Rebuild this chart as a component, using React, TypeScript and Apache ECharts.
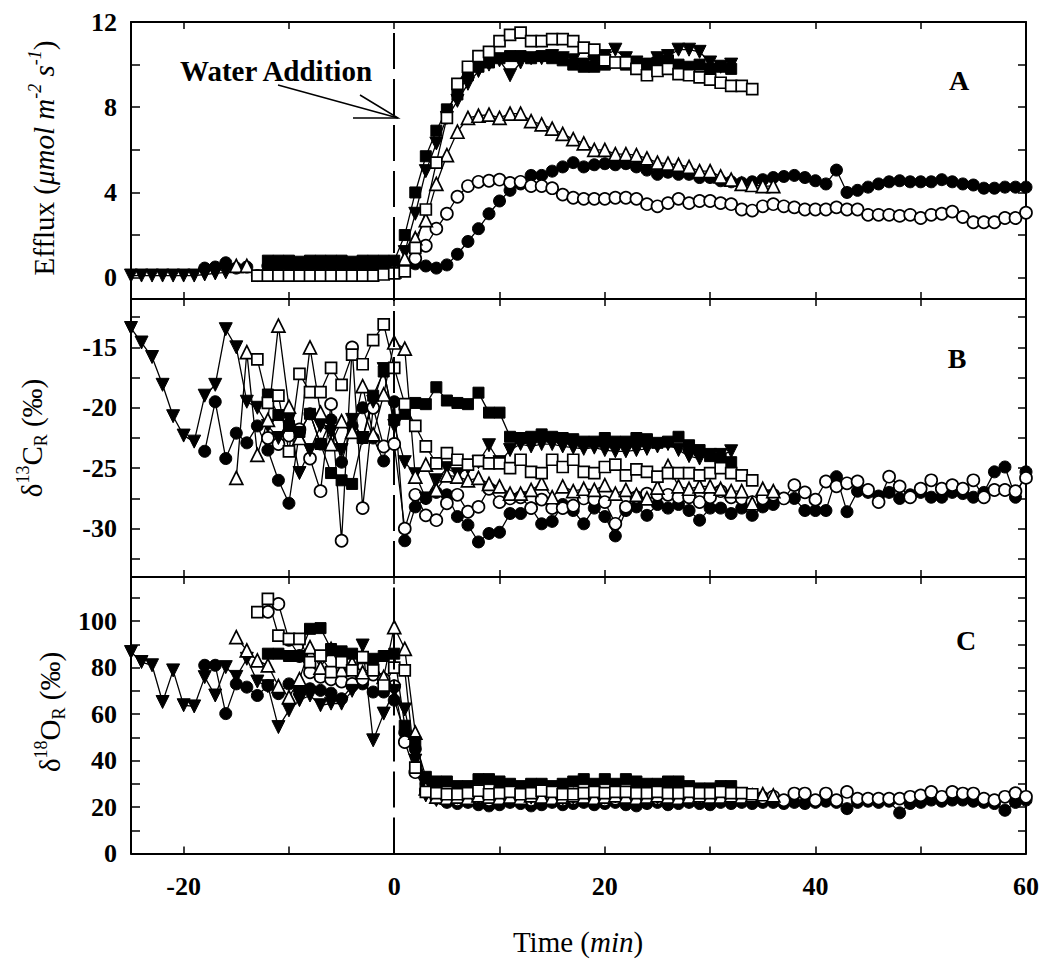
import React, { useEffect, useRef } from "react";
import * as echarts from "echarts";

const FONT = "'Liberation Serif', 'DejaVu Serif', 'Times New Roman', serif";

// ---------- time axes of each series (min) ----------
const tDown = [-25,-24,-23,-22,-21,-20,-19,-18,-17,-16,-15,-14,-13,-12,-11,-10,-9,-8,-7,-6,-5,-4,-3,-2,-1,0,
  1,2,3,4,5,6,7,8,9,10,11,12,13,14,15,16,17,18,19,20,21,22,23,24,25,26,27,28,29,30,31,32];
const tFSq = [-12,-11,-10,-9,-8,-7,-6,-5,-4,-3,-2,-1,0,
  1,2,3,4,5,6,7,8,9,10,11,12,13,14,15,16,17,18,19,20,21,22,23,24,25,26,27,28,29,30,31,32];
const tOSq = [-13,-12,-11,-10,-9,-8,-7,-6,-5,-4,-3,-2,-1,0,
  1,2,3,4,5,6,7,8,9,10,11,12,13,14,15,16,17,18,19,20,21,22,23,24,25,26,27,28,29,30,31,32,33,34];
const tOTri = [-15,-14,-13,-12,-11,-10,-9,-8,-7,-6,-5,-4,-3,-2,-1,0,
  1,2,3,4,5,6,7,8,9,10,11,12,13,14,15,16,17,18,19,20,21,22,23,24,25,26,27,28,29,30,31,32,33,34,35,36];
const tFC = [-18,-17,-16,-15,-14,-13,-12,-11,-10,-9,-8,-7,-6,-5,-4,-3,-2,-1,0,
  1,2,3,4,5,6,7,8,9,10,11,12,13,14,15,16,17,18,19,20,21,22,23,24,25,26,27,28,29,30,
  31,32,33,34,35,36,37,38,39,40,41,42,43,44,45,46,47,48,49,50,51,52,53,54,55,56,57,58,59,60];
const tOC = [-12,-11,-10,-9,-8,-7,-6,-5,-4,-3,-2,-1,0,
  1,2,3,4,5,6,7,8,9,10,11,12,13,14,15,16,17,18,19,20,21,22,23,24,25,26,27,28,29,30,
  31,32,33,34,35,36,37,38,39,40,41,42,43,44,45,46,47,48,49,50,51,52,53,54,55,56,57,58,59,60];

// ---------- Panel A: Efflux ----------
const downA = [0.1,0.1,0.1,0.1,0.1,0.1,0.1,0.15,0.2,0.25,null,null,null,null,null,null,null,null,null,null,null,null,null,null,null,null,
  1.2,3.0,5.0,6.3,7.5,8.3,9.1,9.7,10.0,10.2,9.5,10.1,10.3,10.3,10.4,10.3,10.2,10.0,10.1,10.4,10.7,10.3,10.1,10.0,10.3,10.4,10.7,10.7,10.6,10.1,9.9,10.0];
const fsqA = [0.8,0.8,0.8,0.75,0.8,0.8,0.8,0.8,0.75,0.8,0.8,0.8,0.8,
  2.0,4.0,5.7,6.9,7.9,8.6,9.5,9.9,10.1,10.3,10.4,10.4,10.3,10.4,10.3,10.2,10.0,9.9,9.9,10.0,10.1,10.0,10.1,10.0,10.1,10.2,10.0,9.9,10.0,9.8,9.9,9.8];
const osqA = [0.1,0.1,0.1,0.1,0.1,0.1,0.1,0.1,0.1,0.1,0.1,0.1,0.15,0.2,
  0.3,1.4,3.2,5.4,7.5,9.1,9.9,10.4,10.6,11.1,11.4,11.5,11.1,11.1,11.2,11.2,11.1,10.8,10.7,10.2,10.1,10.1,9.8,9.5,9.7,9.8,9.55,9.5,9.4,9.3,9.15,9.0,9.0,8.85];
const otriA = [0.55,0.55,null,null,null,null,null,null,null,null,null,null,null,null,null,0.3,
  0.9,1.85,2.7,4.4,5.75,6.85,7.5,7.6,7.65,7.5,7.7,7.7,7.35,7.2,7.0,6.75,6.5,6.3,6.0,6.0,5.8,5.8,5.75,5.6,5.4,5.35,5.3,5.2,5.0,5.0,4.75,4.6,4.4,4.35,4.3,4.3];
const fcA = [0.45,0.5,0.7,0.45,0.5,0.1,0.55,0.55,0.55,0.55,0.55,0.55,0.55,0.55,0.55,0.55,0.55,0.55,0.55,
  0.6,0.65,0.55,0.45,0.6,1.1,1.7,2.3,3.0,3.6,4.1,4.4,4.8,4.8,5.0,5.2,5.4,5.2,5.3,5.35,5.3,5.35,5.2,5.05,4.85,4.95,4.85,4.85,4.7,4.7,
  4.55,4.5,4.45,4.5,4.6,4.7,4.75,4.8,4.7,4.55,4.4,5.05,4.0,4.1,4.25,4.4,4.5,4.55,4.5,4.5,4.5,4.6,4.5,4.4,4.35,4.2,4.2,4.25,4.25,4.25];
const ocA = [null,null,null,null,null,null,null,null,null,null,null,null,0.3,
  0.5,0.9,1.5,2.3,3.0,3.8,4.3,4.5,4.55,4.6,4.45,4.5,4.3,4.3,4.2,3.9,3.75,3.7,3.7,3.7,3.75,3.75,3.7,3.45,3.35,3.5,3.7,3.5,3.6,3.6,
  3.5,3.45,3.2,3.15,3.35,3.45,3.35,3.3,3.2,3.2,3.2,3.3,3.2,3.2,2.95,2.95,2.95,2.9,2.95,2.8,2.95,3.0,3.1,2.85,2.6,2.6,2.6,2.8,2.8,3.05];

// ---------- Panel B: delta13C ----------
const downB = [-13.4,-14.6,-15.8,-18.1,-20.7,-22.3,-22.8,-19.0,-18.1,-13.5,-15.0,-19.5,-20.0,-21.5,-22.5,-21.0,-25.4,-23.5,-21.5,-22.0,-23.5,-21.0,-22.5,-19.5,-16.8,-21.5,
  -24.5,-25.5,-27.5,-26.0,-25.0,-25.5,-25.0,-24.5,-23.1,-24.5,-23.5,-23.0,-23.2,-23.0,-23.0,-23.2,-23.3,-23.4,-23.3,-23.5,-23.6,-23.6,-23.5,-23.4,-23.2,-23.0,-23.5,-24.0,-24.2,-23.9,-23.9,-23.6];
const fsqB = [-18.9,-20.6,-21.5,-22.0,-20.5,-23.0,-25.4,-26.0,-26.3,-22.5,-19.0,-17.0,-21.0,
  -20.5,-19.6,-19.7,-18.3,-19.4,-19.6,-19.7,-18.75,-20.4,-20.4,-22.4,-22.5,-22.4,-22.2,-22.4,-22.5,-22.6,-22.8,-22.8,-22.5,-22.8,-22.8,-22.5,-22.6,-22.9,-22.8,-22.4,-23.1,-23.5,-24.0,-24.2,-24.5];
const osqB = [-16.0,-19.6,-19.0,-23.6,-17.2,-18.7,-18.7,-16.7,-18.1,-15.6,-16.4,-14.4,-13.1,-16.7,
  -19.7,-21.5,-23.2,-24.6,-23.75,-24.3,-24.7,-24.4,-24.6,-24.6,-25.0,-24.3,-25.3,-25.4,-24.3,-24.9,-24.3,-25.3,-25.4,-24.9,-24.7,-25.6,-25.1,-25.3,-25.7,-25.4,-25.4,-25.4,-25.6,-25.4,-25.0,-25.4,-25.6,-26.0];
const otriB = [-25.8,-15.4,-23.9,-21.0,-13.2,-19.9,-22.5,-15.0,-20.4,-23.0,-21.1,-22.0,-18.2,-22.2,-18.9,-14.6,
  -15.1,-25.7,-24.7,-26.8,-25.6,-25.7,-26.0,-25.8,-26.3,-26.5,-27.1,-27.1,-26.8,-26.25,-27.4,-26.5,-26.9,-26.7,-26.8,-26.4,-27.1,-26.8,-27.2,-27.5,-26.6,-24.8,-26.5,-26.7,-26.5,-26.5,-26.7,-26.9,-26.9,-27.9,-26.7,-26.9];
const fcB = [-23.6,-19.5,-24.2,-22.1,-22.9,-21.5,-23.5,-26.0,-27.9,-22.0,-20.5,-23.0,-21.0,-24.5,-21.5,-20.0,-22.5,-24.4,-19.5,
  -31.0,-28.2,-27.5,-27.0,-27.2,-29.0,-29.7,-31.1,-30.4,-30.3,-28.75,-28.75,-28.3,-29.6,-29.4,-28.0,-28.5,-29.6,-28.3,-29.0,-30.6,-28.5,-28.2,-28.9,-28.0,-28.3,-28.0,-28.5,-29.3,-28.3,
  -28.3,-28.75,-28.3,-28.9,-28.2,-28.0,-27.5,-27.5,-28.5,-28.5,-28.5,-25.7,-28.6,-26.9,-27.0,-27.3,-27.0,-27.5,-27.2,-27.0,-27.4,-27.4,-27.0,-27.1,-27.4,-27.0,-25.3,-24.9,-27.4,-25.3];
const ocB = [-22.5,-23.0,-22.3,-21.8,-24.2,-26.9,-19.7,-31.0,-15.0,-28.3,-20.0,-23.2,-23.0,
  -30.0,-27.2,-28.9,-29.3,-27.9,-27.2,-28.6,-28.2,-26.7,-27.8,-27.5,-27.4,-28.3,-27.6,-28.3,-28.3,-28.1,-27.5,-27.6,-27.8,-29.6,-28.2,-27.4,-27.1,-27.2,-27.2,-27.4,-27.4,-27.8,-27.4,
  -26.9,-27.4,-27.5,-27.8,-27.5,-27.2,-27.5,-26.4,-27.0,-27.6,-26.1,-26.5,-26.25,-26.1,-26.8,-27.8,-25.7,-26.5,-27.4,-26.7,-26.0,-26.7,-26.4,-26.7,-26.0,-27.4,-26.8,-26.8,-26.9,-25.8];

// ---------- Panel C: delta18O ----------
const downC = [86.7,82.4,81,65.2,78.8,63.8,63.3,75.9,68,80.2,76,83.8,74,72,54.4,61.6,66,68,63.8,64.5,64.5,70,89.5,48.7,60.2,70,
  62,40,25,23,23.5,24,23,24,24.5,23.5,24,23.5,24,24.5,24,23.5,24,24.5,24,24,24.5,24,24,24.5,24,24,24.5,24,24,24,24.5,24];
const fsqC = [86,86,85,85,96.7,97,88,87,86,84,83.8,85,86,
  55,48,33,31,31,29,29,32,32,31,30,29,30,30,29,30,31,32,30,32,30,32,31,30,30,31,31,29,28,28,29,29];
const osqC = [103.9,109.6,93.8,92.4,92.4,82.4,85.2,78.1,82.4,78.8,84.5,78.8,72.3,80,
  78.8,37,26.5,26,25.5,25.5,26,27,25.5,26,26.5,25.5,26,27,26.5,25.5,25.5,26,26.5,26,26.5,26.5,26,26,26.5,26,26,26.5,26,26,26.5,26,26,25.5];
const otriC = [93.1,87.4,83.1,81,72,67.3,75,88.8,80,88.1,79,82,78,80,76,97.4,
  88.1,52,28,24.5,24,24.5,24,25,24.5,24,24.5,24,25,24.5,24,24.5,25,24.5,24,24.5,25,24.5,24,24.5,25,24.5,24,24.5,25,24.5,24.5,25,24.5,25,25.5,25];
const fcC = [81,81,60.2,73,71.6,68,72.3,68.8,73,70.2,70.9,70.2,69,66.6,72,73,69.5,69.5,66,
  52,45,30,24,22,21.5,22,21,20.5,21,22,21.5,20.5,21,22,21,21.5,22,21,21.5,22,21,20.5,21.5,22,21,21.5,22,21.5,21,
  22,21.5,22,21.5,22,22,21.5,22,21.5,22,22.5,22,19.3,22,22.5,22,22.5,17.5,21.5,22,23,22.5,23,23,22.5,22,21.5,18.6,22,23];
const ocC = [104,107.4,92,85,78,76,75,74,73,75,77,75,72,
  48,35,27,24,23.5,23,23.5,24,23,23.5,24,23.5,23,24,23.5,23,23.5,24,23.5,23,23.5,24,23.5,24,23.5,24,23.5,24,24,24.5,
  24,24.5,24,24.5,24,24.5,22.9,25.8,25.8,22.9,25.8,22.9,26.5,23.6,23.6,23.6,23.6,23.6,24.4,25,26.5,24.4,26.5,25.8,25.8,23.6,22.9,24.4,26,24.4];

// ---------- axis ticks / labels ----------
const xTicks = [-20,-10,0,10,20,30,40,50,60];
const xLabels = [-20,0,20,40,60];
const aTicks = [0,2,4,6,8,10,12];
const aLabels = [0,4,8,12];
const bTicks = [-32.5,-30,-27.5,-25,-22.5,-20,-17.5,-15,-12.5];
const bLabels = [-30,-25,-20,-15];
const cTicks = [0,10,20,30,40,50,60,70,80,90,100,110];
const cLabels = [0,20,40,60,80,100];

const GRIDS = [
  { left: 131, top: 22, width: 895, height: 277 },
  { left: 131, top: 299, width: 895, height: 278 },
  { left: 131, top: 577, width: 895, height: 276.5 },
];
const YRANGE = [
  { min: -1, max: 12, ticks: aTicks, labels: aLabels },
  { min: -34, max: -11, ticks: bTicks, labels: bLabels },
  { min: 0, max: 119, ticks: cTicks, labels: cLabels },
];

const STY: Record<string, { symbol: string; size: number; rotate?: number; filled: boolean }> = {
  fc: { symbol: "circle", size: 12, filled: true },
  oc: { symbol: "circle", size: 12, filled: false },
  down: { symbol: "triangle", size: 13, rotate: 180, filled: true },
  otri: { symbol: "triangle", size: 13, filled: false },
  fsq: { symbol: "rect", size: 11, filled: true },
  osq: { symbol: "rect", size: 11, filled: false },
};

function ser(g: number, t: number[], v: (number | null)[], key: string, withMark: boolean) {
  const s = STY[key];
  const o: any = {
    type: "line",
    xAxisIndex: g * 2,
    yAxisIndex: g * 2,
    data: t.map((x, i) => [x, v[i] == null ? "-" : v[i]]),
    symbol: s.symbol,
    symbolSize: s.size,
    symbolRotate: s.rotate || 0,
    showSymbol: true,
    connectNulls: false,
    silent: true,
    lineStyle: { color: "#000", width: 1.3 },
    itemStyle: { color: s.filled ? "#000" : "#fff", borderColor: "#000", borderWidth: s.filled ? 1 : 1.7 },
    emphasis: { disabled: true },
  };
  if (withMark) {
    o.markLine = {
      silent: true,
      symbol: "none",
      label: { show: false },
      lineStyle: { color: "#000", type: [36, 10], width: 2 },
      data: [{ xAxis: 0 }],
    };
  }
  return o;
}

const nameRich = {
  n: { fontFamily: FONT, fontSize: 29, lineHeight: 36, fill: "#000" },
  i: { fontFamily: FONT, fontSize: 29, lineHeight: 36, fontStyle: "italic", fill: "#000" },
  sup: { fontFamily: FONT, fontSize: 18, lineHeight: 18, verticalAlign: "top", fill: "#000" },
  isup: { fontFamily: FONT, fontSize: 18, lineHeight: 18, verticalAlign: "top", fontStyle: "italic", fill: "#000" },
  sub: { fontFamily: FONT, fontSize: 18, lineHeight: 18, verticalAlign: "bottom", fill: "#000" },
};

function buildOption() {
  const xAxis: any[] = [];
  const yAxis: any[] = [];
  GRIDS.forEach((_, g) => {
    ["bottom", "top"].forEach((pos) => {
      const showLab = g === 2 && pos === "bottom";
      xAxis.push({
        type: "value",
        gridIndex: g,
        position: pos,
        min: -25,
        max: 60,
        axisLine: { show: true, onZero: false, lineStyle: { color: "#000", width: 2 } },
        axisTick: { show: true, inside: true, length: 7, lineStyle: { color: "#000", width: 1.5 }, customValues: xTicks },
        axisLabel: {
          show: showLab,
          customValues: xLabels,
          fontFamily: FONT,
          fontSize: 26,
          fontWeight: "bold",
          color: "#000",
          margin: 20,
        },
        splitLine: { show: false },
      });
    });
    ["left", "right"].forEach((pos) => {
      const r = YRANGE[g];
      yAxis.push({
        type: "value",
        gridIndex: g,
        position: pos,
        min: r.min,
        max: r.max,
        axisLine: { show: true, onZero: false, lineStyle: { color: "#000", width: 2 } },
        axisTick: { show: true, inside: true, length: pos === "left" ? 9 : 8, lineStyle: { color: "#000", width: 1.5 }, customValues: r.ticks },
        axisLabel: {
          show: pos === "left",
          customValues: r.labels,
          fontFamily: FONT,
          fontSize: 26,
          fontWeight: "bold",
          color: "#000",
          margin: 14,
        },
        splitLine: { show: false },
      });
    });
  });

  const series: any[] = [];
  const panels = [
    { fc: fcA, oc: ocA, down: downA, otri: otriA, fsq: fsqA, osq: osqA },
    { fc: fcB, oc: ocB, down: downB, otri: otriB, fsq: fsqB, osq: osqB },
    { fc: fcC, oc: ocC, down: downC, otri: otriC, fsq: fsqC, osq: osqC },
  ];
  panels.forEach((p, g) => {
    series.push(ser(g, tFC, p.fc, "fc", true));
    series.push(ser(g, tOC, p.oc, "oc", false));
    series.push(ser(g, tDown, p.down, "down", false));
    series.push(ser(g, tOTri, p.otri, "otri", false));
    series.push(ser(g, tFSq, p.fsq, "fsq", false));
    series.push(ser(g, tOSq, p.osq, "osq", false));
  });

  const bold28 = { fontFamily: FONT, fontSize: 28, fontWeight: "bold", fill: "#000", align: "center", verticalAlign: "middle" };

  const graphic: any[] = [
    { type: "text", x: 276, y: 71, style: { ...bold28, text: "Water Addition", fontSize: 29 } },
    { type: "line", shape: { x1: 278, y1: 85, x2: 398, y2: 118 }, style: { stroke: "#000", lineWidth: 1.5 } },
    { type: "polyline", shape: { points: [[360, 95], [398, 118], [353, 118]] }, style: { stroke: "#000", lineWidth: 1.5, fill: null } },
    { type: "text", x: 959, y: 80, style: { ...bold28, text: "A" } },
    { type: "text", x: 957, y: 358, style: { ...bold28, text: "B" } },
    { type: "text", x: 966, y: 640, style: { ...bold28, text: "C" } },
    {
      type: "text", x: 44, y: 158, rotation: Math.PI / 2,
      style: { text: "{n|Efflux (}{i|μmol m}{isup|-2}{i| s}{isup|-1}{n|)}", rich: nameRich, align: "center", verticalAlign: "middle", fontFamily: FONT, fontSize: 29 },
    },
    {
      type: "text", x: 32, y: 438, rotation: Math.PI / 2,
      style: { text: "{n|δ}{sup|13}{n|C}{sub|R}{n| (‰)}", rich: nameRich, align: "center", verticalAlign: "middle", fontFamily: FONT, fontSize: 29 },
    },
    {
      type: "text", x: 50, y: 712, rotation: Math.PI / 2,
      style: { text: "{n|δ}{sup|18}{n|O}{sub|R}{n| (‰)}", rich: nameRich, align: "center", verticalAlign: "middle", fontFamily: FONT, fontSize: 29 },
    },
    {
      type: "text", x: 578, y: 942,
      style: { text: "{n|Time (}{i|min}{n|)}", rich: nameRich, align: "center", verticalAlign: "middle", fontFamily: FONT, fontSize: 29 },
    },
  ];

  return {
    animation: false,
    backgroundColor: "#fff",
    grid: GRIDS.map((g) => ({ ...g, containLabel: false, outerBoundsMode: "none" })),
    xAxis,
    yAxis,
    series,
    graphic,
  };
}

export default function App() {
  const ref = useRef<HTMLDivElement>(null);
  useEffect(() => {
    const chart = echarts.init(ref.current!, null, { renderer: "svg" });
    chart.setOption(buildOption() as any);
    return () => chart.dispose();
  }, []);
  return <div ref={ref} style={{ position: "absolute", left: 0, top: 0, width: 1045, height: 960 }} />;
}
